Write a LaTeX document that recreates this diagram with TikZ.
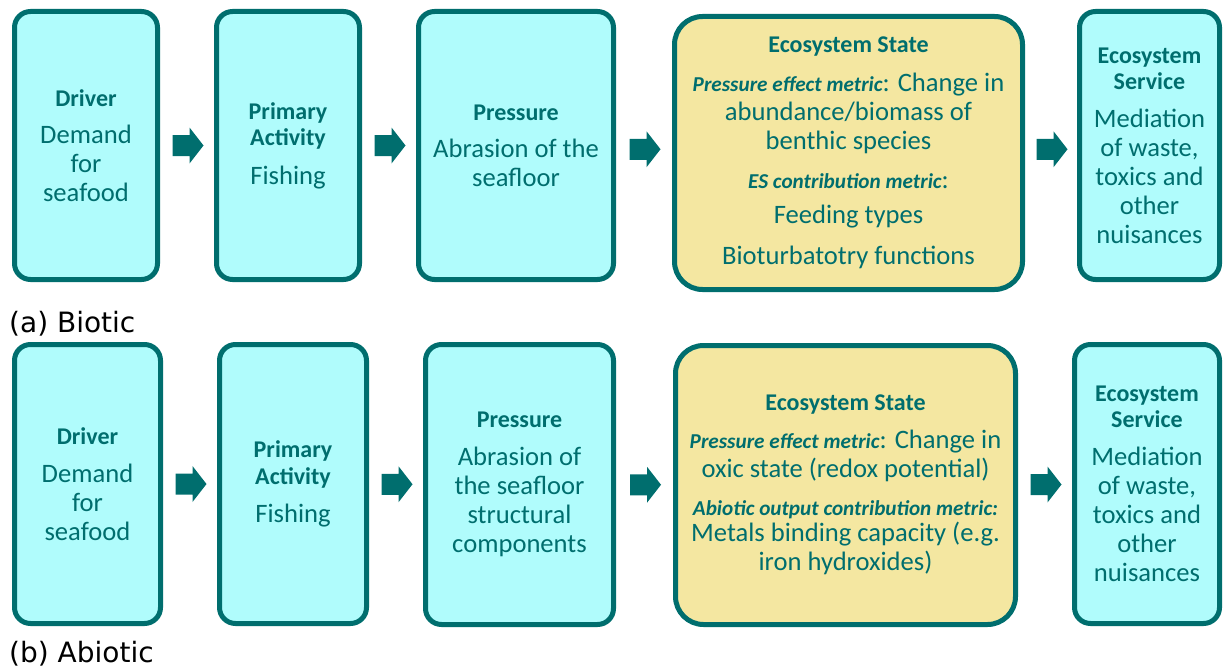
\documentclass[tikz,border=0pt]{standalone}
\usepackage{fontspec}
\setmainfont{Carlito}
\newfontfamily\labfont{DejaVu Sans}
\usetikzlibrary{calc}
\definecolor{tealc}{HTML}{006E6E}
\definecolor{cyanfill}{HTML}{B0FCFC}
\definecolor{yelfill}{HTML}{F4E7A1}
\newcommand\bodyfont{\fontsize{26.6}{29}\selectfont}
\newcommand\hdtxt[1]{{\fontsize{24}{26}\selectfont\bfseries #1}}
\newcommand\mettxt[1]{{\fontsize{21.2}{26}\selectfont\bfseries\itshape #1}}
\newcommand\blockarrow[1]{%
  \fill[tealc] ($(#1)+(-14.5,-10.5)$) -- ++(17,0) -- ++(0,-7.5) -- ++(14,18)
    -- ++(-14,18) -- ++(0,-7.5) -- ++(-17,0) -- cycle;}
\begin{document}
\begin{tikzpicture}[x=1pt,y=-1pt,
  box/.style={draw=tealc, line width=5pt, fill=cyanfill, rounded corners=16pt,
    text=tealc, align=center, inner sep=0pt, font=\bodyfont},
  statebox/.style={box, fill=yelfill, rounded corners=28pt},
  lab/.style={anchor=west, inner sep=0pt, font=\labfont\fontsize{28}{32}\selectfont, text=black}]
\useasboundingbox (0,0) rectangle (1223,669);

% ---------- top row (a) ----------
\node[box, minimum width=143pt, minimum height=268pt] (t1) at (86,145.5)
  {\hdtxt{Driver}\\[8pt]Demand\\for\\seafood};
\node[box, minimum width=143pt, minimum height=268pt] (t2) at (288,145.5)
  {\hdtxt{Primary}\\[-3pt]\hdtxt{Activity}\\[10pt]Fishing};
\node[box, minimum width=195pt, minimum height=268pt] (t3) at (516,145.5)
  {\hdtxt{Pressure}\\[8pt]Abrasion of the\\seafloor};
\node[statebox, minimum width=348pt, minimum height=273pt] (t4) at (848.5,153)
  {\hdtxt{Ecosystem State}\\[10pt]\mettxt{Pressure effect metric}: Change in\\abundance/biomass of\\benthic species\\[10pt]\mettxt{ES contribution metric}:\\[6pt]Feeding types\\[12pt]Bioturbatotry functions};
\node[box, minimum width=140pt, minimum height=268pt] (t5) at (1149.5,145.5)
  {\hdtxt{Ecosystem}\\[-3pt]\hdtxt{Service}\\[9pt]Mediation\\of waste,\\toxics and\\other\\nuisances};

\coordinate (ta1) at ($(t1.east)!0.5!(t2.west)$);
\coordinate (ta2) at ($(t2.east)!0.5!(t3.west)$);
\coordinate (ta3) at ($(t3.east)!0.5!(t4.west)$);
\coordinate (ta4) at ($(t4.east)!0.5!(t5.west)$);
\blockarrow{ta1}\blockarrow{ta2}\blockarrow{ta3}\blockarrow{ta4}

\node[lab] (la) at (9,324) {(a) Biotic};

% ---------- bottom row (b) ----------
\node[box, minimum width=146pt, minimum height=279pt] (b1) at (87.5,484)
  {\hdtxt{Driver}\\[9pt]Demand\\for\\seafood};
\node[box, minimum width=147pt, minimum height=279pt] (b2) at (293,484)
  {\hdtxt{Primary}\\[-2pt]\hdtxt{Activity}\\[9pt]Fishing};
\node[box, minimum width=188pt, minimum height=280pt] (b3) at (519.5,484.5)
  {\hdtxt{Pressure}\\[9pt]Abrasion of\\the seafloor\\structural\\components};
\node[statebox, minimum width=340pt, minimum height=279pt] (b4) at (845.5,485)
  {\hdtxt{Ecosystem State}\\[9pt]\mettxt{Pressure effect metric}: Change in\\oxic state (redox potential)\\[9pt]\mettxt{Abiotic output contribution metric:}\\[-3pt]Metals binding capacity (e.g.\\iron hydroxides)};
\node[box, minimum width=145pt, minimum height=279pt] (b5) at (1147,484)
  {\hdtxt{Ecosystem}\\[-3pt]\hdtxt{Service}\\[9pt]Mediation\\of waste,\\toxics and\\other\\nuisances};

\coordinate (ba1) at ($(b1.east)!0.5!(b2.west)$);
\coordinate (ba2) at ($(b2.east)!0.5!(b3.west)$);
\coordinate (ba3) at ($(b3.east)!0.5!(b4.west)$);
\coordinate (ba4) at ($(b4.east)!0.5!(b5.west)$);
\blockarrow{ba1}\blockarrow{ba2}\blockarrow{ba3}\blockarrow{ba4}

\node[lab] (lb) at (9,654) {(b) Abiotic};
\end{tikzpicture}
\end{document}
